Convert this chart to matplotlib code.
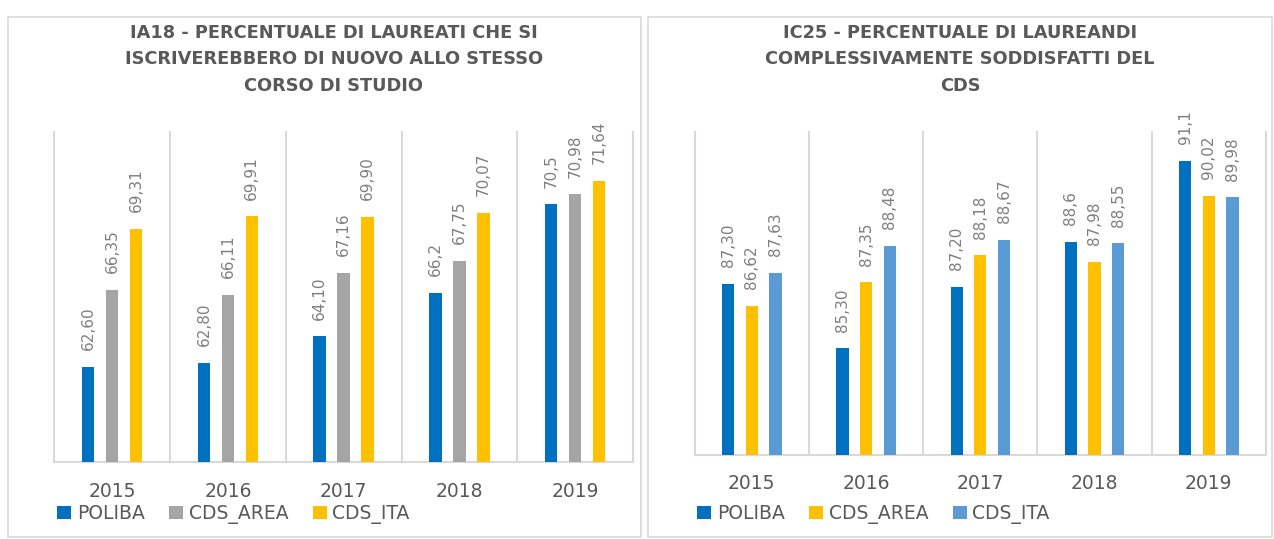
import matplotlib
matplotlib.use("Agg")
import matplotlib.pyplot as plt
from matplotlib.patches import Patch, Rectangle
import numpy as np

# -------------------- Data --------------------
years = ["2015", "2016", "2017", "2018", "2019"]

# IA18 (left panel) labels as shown on the chart
ia18_poliba = ["62,60", "62,80", "64,10", "66,2", "70,5"]
ia18_area = ["66,35", "66,11", "67,16", "67,75", "70,98"]
ia18_ita = ["69,31", "69,91", "69,90", "70,07", "71,64"]

# IC25 (right panel)
ic25_poliba = ["87,30", "85,30", "87,20", "88,6", "91,1"]
ic25_area = ["86,62", "87,35", "88,18", "87,98", "90,02"]
ic25_ita = ["87,63", "88,48", "88,67", "88,55", "89,98"]

title_left = "IA18 - PERCENTUALE DI LAUREATI CHE SI\nISCRIVEREBBERO DI NUOVO ALLO STESSO\nCORSO DI STUDIO"
title_right = "IC25 - PERCENTUALE DI LAUREANDI\nCOMPLESSIVAMENTE SODDISFATTI DEL\nCDS"

# -------------------- Styles --------------------
BLUE = "#0070C0"
GRAY = "#A5A5A5"
YELLOW = "#FFC000"
LIGHTBLUE = "#5B9BD5"
GRID = "#D9D9D9"
TEXT = "#595959"
LABEL = "#7F7F7F"

W, H = 1274, 539
fig = plt.figure(figsize=(W / 100, H / 100), dpi=100)


def fx(px):
    return px / W


def fy(py):
    return 1 - py / H


# panel borders
for x0, x1 in [(8, 641), (648, 1272)]:
    fig.patches.append(Rectangle((fx(x0), fy(537)), fx(x1 - x0), (537 - 17) / H,
                                 transform=fig.transFigure, fill=False,
                                 edgecolor=GRID, linewidth=1.2))


def to_num(lst):
    return [float(s.replace(",", ".")) for s in lst]


def panel(rect, series, colors, names, ylim, title, title_x, tick_pad, legend_x):
    ax = fig.add_axes(rect)
    x = np.arange(len(years))
    offs = [-0.207, 0, 0.207]
    for lbls, col, off in zip(series, colors, offs):
        vals = to_num(lbls)
        ax.bar(x + off, [v - ylim[0] for v in vals], bottom=ylim[0], width=0.107,
               color=col, zorder=3)
        for xi, v, s in zip(x + off, vals, lbls):
            ax.annotate(s, (xi, v), xytext=(0, 12), textcoords="offset points",
                        rotation=90, ha="center", va="bottom", fontsize=11,
                        color=LABEL, annotation_clip=False)
    ax.set_xlim(-0.5, len(years) - 0.5)
    ax.set_ylim(*ylim)
    for b in np.arange(-0.5, len(years), 1.0):
        ax.axvline(b, color=GRID, linewidth=1.5, zorder=1, clip_on=False)
    for s in ["top", "right", "left"]:
        ax.spines[s].set_visible(False)
    ax.spines["bottom"].set_color(GRID)
    ax.spines["bottom"].set_linewidth(1.5)
    ax.set_yticks([])
    ax.set_xticks(x)
    ax.set_xticklabels(years, fontsize=13.5, color=TEXT)
    ax.tick_params(axis="x", length=0, pad=tick_pad)
    fig.text(fx(title_x), fy(24), title, ha="center", va="top", fontsize=12.8,
             fontweight="bold", color=TEXT, linespacing=1.6)
    handles = [Patch(facecolor=c, edgecolor="none") for c in colors]
    fig.legend(handles, names, loc="center left", bbox_to_anchor=(fx(legend_x), fy(514)),
               ncol=3, frameon=False, fontsize=13.5, handlelength=0.75,
               handleheight=0.75, handletextpad=0.3, columnspacing=1.3,
               borderpad=0, borderaxespad=0, labelcolor=TEXT)
    return ax


panel([fx(54.3), fy(462), fx(633 - 54.3), (462 - 132) / H],
      [ia18_poliba, ia18_area, ia18_ita], [BLUE, GRAY, YELLOW],
      ["POLIBA", "CDS_AREA", "CDS_ITA"], (58, 74), title_left, 334, 14.5, 57)

panel([fx(694.7), fy(455), fx(1266 - 694.7), (455 - 132) / H],
      [ic25_poliba, ic25_area, ic25_ita], [BLUE, YELLOW, LIGHTBLUE],
      ["POLIBA", "CDS_AREA", "CDS_ITA"], (82, 92), title_right, 960, 13.5, 697)

fig.savefig("out.png", dpi=100)
